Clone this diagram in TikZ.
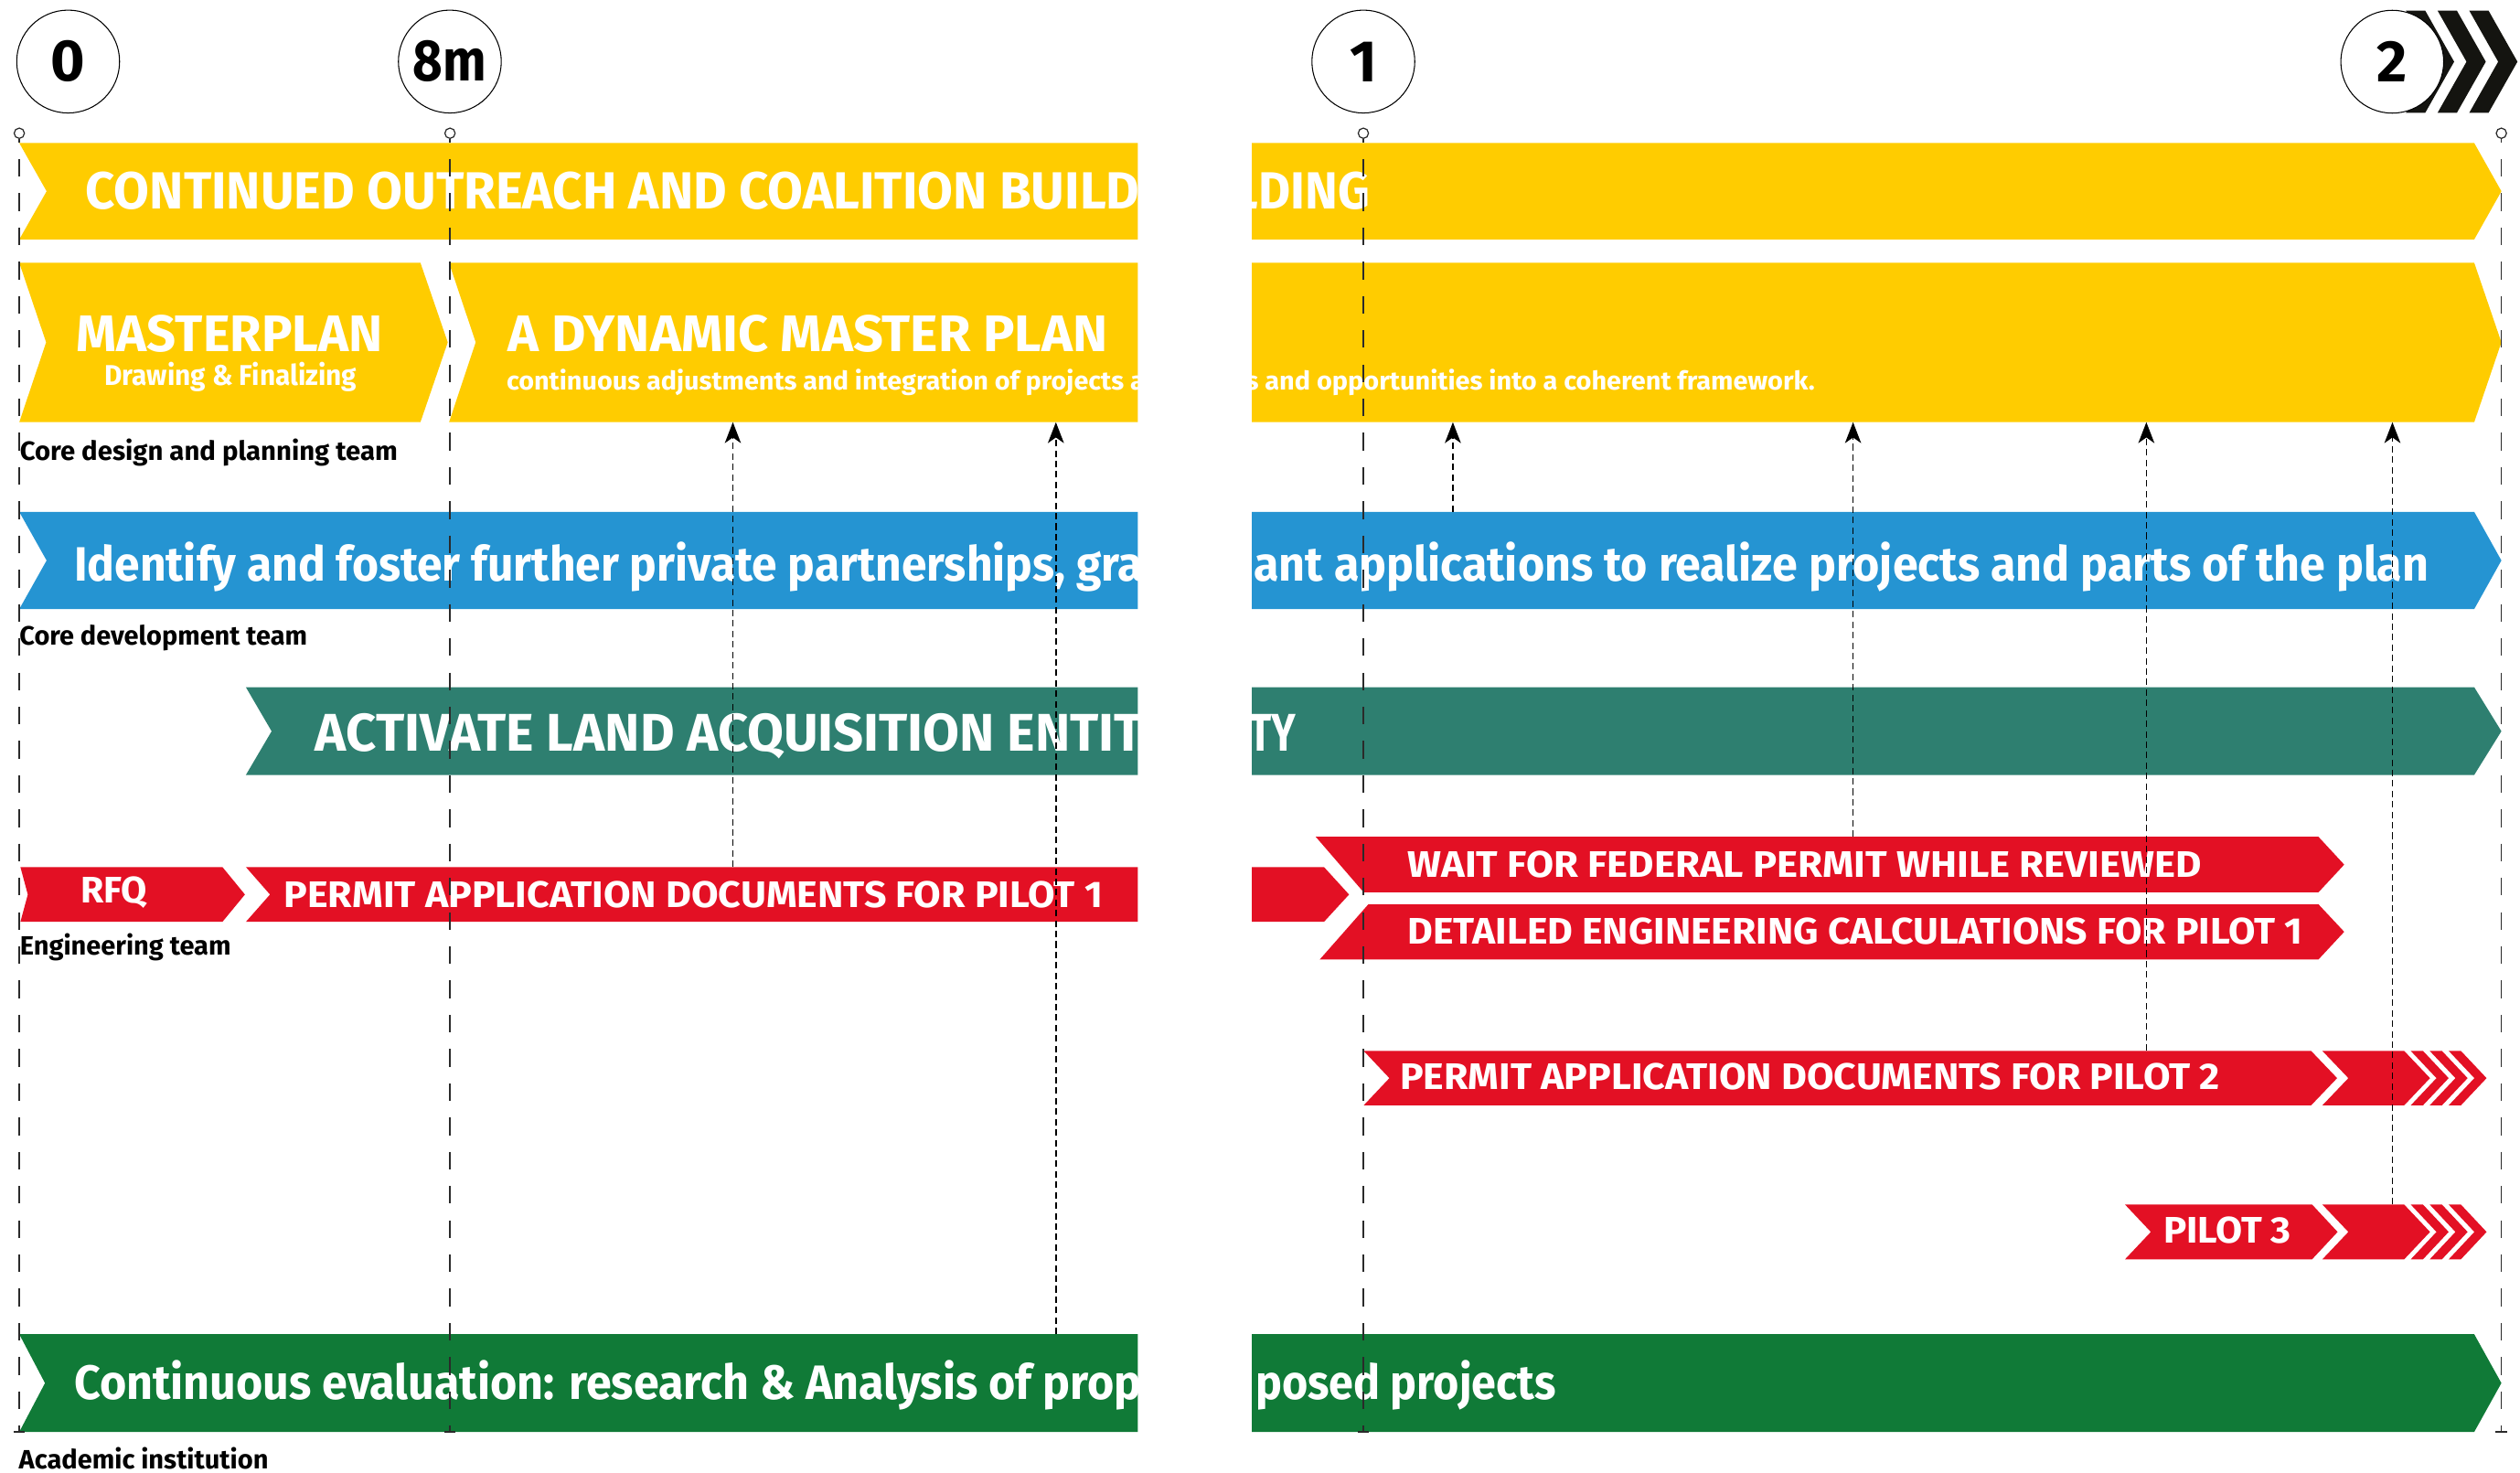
\documentclass[tikz,border=0pt]{standalone}
\usepackage{fontspec}
\setmainfont{Fira Sans}
\usepackage{graphicx}
\usetikzlibrary{arrows.meta}
\definecolor{cyel}{HTML}{FFCC00}
\definecolor{cblue}{HTML}{2594D2}
\definecolor{cteal}{HTML}{2E7F70}
\definecolor{cred}{HTML}{E31024}
\definecolor{cgreen}{HTML}{107A37}
\definecolor{cblack}{HTML}{141410}
\definecolor{cline}{HTML}{2A2A2A}
\newcommand\fitw[2]{\resizebox{#1pt}{\height}{#2}}
\begin{document}
\begin{tikzpicture}[x=1pt,y=-1pt,
  ttl/.style={inner sep=0pt, anchor=base west, text=white, font=\bfseries\fontsize{#1}{#1}\selectfont},
  lbl/.style={inner sep=0pt, anchor=base west, text=black, font=\bfseries\fontsize{16.5}{18}\selectfont},
  tl/.style={draw=cline, line width=0.85pt, dash pattern=on 11pt off 10.3pt, dash phase=8.8pt},
  mk/.style={circle, draw=cline, fill=white, line width=0.7pt, minimum size=6.4pt, inner sep=0pt},
  arr/.style={draw=black, line width=0.95pt, dash pattern=on 4pt off 2.5pt, -{Stealth[length=13pt,width=10pt,inset=3.5pt]}},
  circ/.style={circle, draw=black, fill=white, line width=0.6pt, minimum size=64pt, inner sep=0pt, font=\bfseries\fontsize{36.5}{40}\selectfont}
]
\useasboundingbox (0,0) rectangle (1568,916);

% ---------- bars ----------
% Row A
\fill[cyel] (12,89) -- (29,119) -- (12,149) -- (708,149) -- (708,89) -- cycle;
\fill[cyel] (779,89) -- (1539.5,89) -- (1556.4,119) -- (1539.5,149) -- (779,149) -- cycle;
% Row B
\fill[cyel] (12,163.5) -- (28.7,213) -- (12,262.7) -- (261.6,262.7) -- (278.6,213) -- (261.6,163.5) -- cycle;
\fill[cyel] (279.4,163.5) -- (296,213) -- (279.4,262.7) -- (708,262.7) -- (708,163.5) -- cycle;
\fill[cyel] (779,163.5) -- (1539.5,163.5) -- (1556.4,213) -- (1539.5,262.7) -- (779,262.7) -- cycle;
% Row C
\fill[cblue] (12,318.5) -- (29,348.75) -- (12,379) -- (708,379) -- (708,318.5) -- cycle;
\fill[cblue] (779,318.5) -- (1539.5,318.5) -- (1556.4,348.75) -- (1539.5,379) -- (779,379) -- cycle;
% Row D
\fill[cteal] (153,427.6) -- (169,455) -- (153,482.2) -- (708,482.2) -- (708,427.6) -- cycle;
\fill[cteal] (779,427.6) -- (1539.5,427.6) -- (1556.4,455) -- (1539.5,482.2) -- (779,482.2) -- cycle;
% Row E
\fill[cred] (12.7,539.5) -- (17.3,556.6) -- (12.7,573.6) -- (138.4,573.6) -- (152.4,556.6) -- (138.4,539.5) -- cycle;
\fill[cred] (153,539.5) -- (168,556.6) -- (153,573.6) -- (708,573.6) -- (708,539.5) -- cycle;
\fill[cred] (779,539.5) -- (823.8,539.5) -- (839.4,556.6) -- (823.8,573.6) -- (779,573.6) -- cycle;
\fill[cred] (818.7,520.7) -- (848.5,555.2) -- (1442.6,555.2) -- (1458.6,538) -- (1442.6,520.7) -- cycle;
\fill[cred] (851.4,562.7) -- (821.2,597) -- (1442.6,597) -- (1458.6,579.8) -- (1442.6,562.7) -- cycle;
% Row F / G
\fill[cred] (848.5,653.9) -- (864.5,670.85) -- (848.5,687.8) -- (1438,687.8) -- (1454.2,670.85) -- (1438,653.9) -- cycle;
\fill[cred] (1322.2,749.5) -- (1338.3,766.55) -- (1322.2,783.6) -- (1438.6,783.6) -- (1454.5,766.55) -- (1438.6,749.5) -- cycle;
\foreach \t/\b in {653.9/687.8, 749.5/783.6}{
  \pgfmathsetmacro\m{(\t+\b)/2}
  \fill[cred] (1445,\t) -- (1461.2,\m) -- (1445,\b) -- (1495.9,\b) -- (1512,\m) -- (1495.9,\t) -- cycle;
  \foreach \k in {0,1,2}{
    \pgfmathsetmacro\L{1500+11.8*\k}
    \fill[cred] (\L,\t) -- ({\L+7.6},\t) -- ({\L+23.6},\m) -- ({\L+7.6},\b) -- (\L,\b) -- ({\L+16},\m) -- cycle;
  }
}
% Row H
\fill[cgreen] (12,830.2) -- (28,860.6) -- (12,891) -- (708,891) -- (708,830.2) -- cycle;
\fill[cgreen] (779,830.2) -- (1539.5,830.2) -- (1556.4,860.6) -- (1539.5,891) -- (779,891) -- cycle;

% ---------- texts, left half ----------
\begin{scope}
\clip (0,0) rectangle (708,916);
\node[ttl=32.5] (tA1) at (53,130) {\fitw{656}{CONTINUED OUTREACH AND COALITION BUILD}};
\node[ttl=16] (tB3) at (315,242.4) {\fitw{397}{continuous adjustments and integration of projects a}};
\node[ttl=30] (tC1) at (46,361.3) {\fitw{665}{Identify and foster further private partnerships, gra}};
\node[ttl=33] (tD1) at (196,467.5) {\fitw{515}{ACTIVATE LAND ACQUISITION ENTIT}};
\node[ttl=30] (tH1) at (46,871) {\fitw{664}{Continuous evaluation: research \& Analysis of prop}};
\end{scope}
\node[ttl=32] (tB1) at (47.5,219) {\fitw{190.5}{MASTERPLAN}};
\node[ttl=17.8] (tB2) at (64.8,239.9) {\fitw{157}{Drawing \& Finalizing}};
\node[ttl=32] (tB4) at (316,219) {\fitw{373}{A DYNAMIC MASTER PLAN}};
\node[ttl=23] (tE1) at (50,562) {\fitw{41.4}{RFQ}};
\node[ttl=23] (tE2) at (176.5,564.5) {\fitw{509.5}{PERMIT APPLICATION DOCUMENTS FOR PILOT 1}};

% ---------- texts, right half ----------
\begin{scope}
\clip (779,0) rectangle (1568,916);
\node[ttl=32.5] (tA2) at (767,130) {\fitw{85}{LDING}};
\node[ttl=16] (tB5) at (775,242.4) {\fitw{354}{s and opportunities into a coherent framework.}};
\node[ttl=30] (tC2) at (780,361.3) {\fitw{731}{ant applications to realize projects and parts of the plan}};
\node[ttl=33] (tD2) at (777,467.5) {\fitw{29}{TY}};
\node[ttl=30] (tH2) at (781,871) {\fitw{187}{posed projects}};
\end{scope}
\node[ttl=23] (tE3) at (875.6,546) {\fitw{494}{WAIT FOR FEDERAL PERMIT WHILE REVIEWED}};
\node[ttl=23] (tE4) at (875.6,587.5) {\fitw{557}{DETAILED ENGINEERING CALCULATIONS FOR PILOT 1}};
\node[ttl=23] (tF1) at (871,678) {\fitw{510}{PERMIT APPLICATION DOCUMENTS FOR PILOT 2}};
\node[ttl=23] (tG1) at (1345.9,773.5) {\fitw{79.6}{PILOT 3}};

% ---------- team labels ----------
\node[lbl] (l1) at (12.2,286.4) {\fitw{235}{Core design and planning team}};
\node[lbl] (l2) at (12,401.5) {\fitw{179}{Core development team}};
\node[lbl] (l3) at (12.2,594.2) {\fitw{131.3}{Engineering team}};
\node[lbl] (l4) at (11.6,914) {\fitw{155.2}{Academic institution}};

% ---------- timeline ----------
\foreach \n/\x in {0/12, 8/280, 1/848.3, 2/1556.4}{
  \node[mk] (m\n) at (\x,82.9) {};
  \coordinate (b\n) at (\x,891);
  \draw[tl] (m\n.south) -- (b\n);
  \draw[cline, line width=0.85pt] (b\n) ++(-3.5,0) -- ++(7,0);
}

% ---------- dependency arrows ----------
\coordinate (a1s) at (456,539.5);   \coordinate (a1e) at (456,262.7);
\coordinate (a2s) at (657,830.2);   \coordinate (a2e) at (657,262.7);
\coordinate (a3s) at (904,318.5);   \coordinate (a3e) at (904,262.7);
\coordinate (a4s) at (1153,520.7);  \coordinate (a4e) at (1153,262.7);
\coordinate (a5s) at (1335.5,653.9);\coordinate (a5e) at (1335.5,262.7);
\coordinate (a6s) at (1488.6,749.5);\coordinate (a6e) at (1488.6,262.7);
\foreach \i in {1,...,6}{ \draw[arr] (a\i s) -- (a\i e); }

% ---------- milestone circles ----------
\foreach \k in {0,1,2}{
  \pgfmathsetmacro\L{1497+19.7*\k}
  \fill[cblack] (\L,6.6) -- ({\L+12},6.6) -- ({\L+30},38.4) -- ({\L+12},70.2) -- (\L,70.2) -- ({\L+18},38.4) -- cycle;
}
\node[circ] (c0) at (42.4,38.3) {0};
\node[circ] (c8) at (279.9,38.3) {\fitw{45.7}{8m}};
\node[circ] (c1) at (848.3,38.3) {1};
\node[circ] (c2) at (1488.5,38.4) {2};
\end{tikzpicture}
\end{document}
